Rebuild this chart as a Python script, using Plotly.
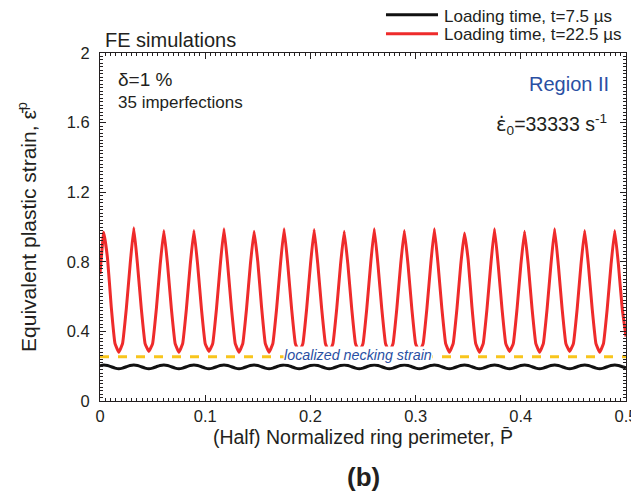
import plotly.graph_objects as go

# ---------------- data ----------------
# x sampling of the (half) normalized perimeter: step 1/280 from 0 to 0.5
n_steps = 140
perimeter = [i / 280 for i in range(n_steps + 1)]

# red curve: loading time t = 22.5 us
strain_t22 = (
    [0.73]
    + [0.97, 0.82, 0.54, 0.33, 0.280, 0.33, 0.53, 0.78]
    + [0.995, 0.78, 0.53, 0.33, 0.285, 0.33, 0.53, 0.78]
    + [0.98, 0.78, 0.53, 0.33, 0.280, 0.33, 0.53, 0.78]
    + [0.98, 0.78, 0.53, 0.33, 0.285, 0.33, 0.53, 0.78]
    + [0.99, 0.78, 0.53, 0.33, 0.280, 0.33, 0.53, 0.78]
    + [0.975, 0.80, 0.54, 0.33, 0.280, 0.33, 0.53, 0.78]
    + [0.99, 0.78, 0.53, 0.33, 0.285, 0.33, 0.53, 0.78]
    + [0.985, 0.78, 0.53, 0.33, 0.280, 0.33, 0.53, 0.78]
    + [0.975, 0.78, 0.53, 0.33, 0.285, 0.33, 0.53, 0.78]
    + [0.99, 0.78, 0.53, 0.33, 0.280, 0.33, 0.53, 0.78]
    + [0.98, 0.78, 0.53, 0.33, 0.285, 0.33, 0.53, 0.78]
    + [0.99, 0.78, 0.53, 0.33, 0.280, 0.33, 0.53, 0.78]
    + [0.965, 0.81, 0.54, 0.33, 0.280, 0.33, 0.53, 0.78]
    + [0.99, 0.78, 0.53, 0.33, 0.285, 0.33, 0.53, 0.78]
    + [0.975, 0.78, 0.53, 0.33, 0.280, 0.33, 0.53, 0.78]
    + [0.99, 0.78, 0.53, 0.33, 0.285, 0.33, 0.53, 0.78]
    + [0.98, 0.78, 0.53, 0.33, 0.280, 0.33, 0.53, 0.78]
    + [0.98, 0.78, 0.53, 0.37]
)

# black curve: loading time t = 7.5 us
strain_t7 = (
    [0.203]
    + [0.207, 0.204, 0.197, 0.189, 0.185, 0.189, 0.197, 0.204]
    + [0.207, 0.204, 0.197, 0.189, 0.185, 0.189, 0.197, 0.204]
    + [0.207, 0.204, 0.197, 0.189, 0.185, 0.189, 0.197, 0.204]
    + [0.207, 0.204, 0.197, 0.189, 0.185, 0.189, 0.197, 0.204]
    + [0.207, 0.204, 0.197, 0.189, 0.185, 0.189, 0.197, 0.204]
    + [0.207, 0.204, 0.197, 0.189, 0.185, 0.189, 0.197, 0.204]
    + [0.207, 0.204, 0.197, 0.189, 0.185, 0.189, 0.197, 0.204]
    + [0.207, 0.204, 0.197, 0.189, 0.185, 0.189, 0.197, 0.204]
    + [0.207, 0.204, 0.197, 0.189, 0.185, 0.189, 0.197, 0.204]
    + [0.207, 0.204, 0.197, 0.189, 0.185, 0.189, 0.197, 0.204]
    + [0.207, 0.204, 0.197, 0.189, 0.185, 0.189, 0.197, 0.204]
    + [0.207, 0.204, 0.197, 0.189, 0.185, 0.189, 0.197, 0.204]
    + [0.207, 0.204, 0.197, 0.189, 0.185, 0.189, 0.197, 0.204]
    + [0.207, 0.204, 0.197, 0.189, 0.185, 0.189, 0.197, 0.204]
    + [0.207, 0.204, 0.197, 0.189, 0.185, 0.189, 0.197, 0.204]
    + [0.207, 0.204, 0.197, 0.189, 0.185, 0.189, 0.197, 0.204]
    + [0.207, 0.204, 0.197, 0.189, 0.185, 0.189, 0.197, 0.204]
    + [0.207, 0.204, 0.197, 0.191]
)

# localized necking strain level
necking_x = [0.0, 0.5]
necking_strain = [0.255, 0.255]

series_names = ["Loading time, t=7.5 \u00b5s", "Loading time, t=22.5 \u00b5s"]
series_colors = ["#111111", "#ee2b2b"]

# ticks: labelled major ticks and unlabelled intermediate ticks
x_label_ticks = [0, 0.1, 0.2, 0.3, 0.4, 0.5]
x_mid_ticks = [0.05, 0.15, 0.25, 0.35, 0.45]
y_label_ticks = [0, 0.4, 0.8, 1.2, 1.6, 2.0]
y_label_text = ["0", "0.4", "0.8", "1.2", "1.6", "2"]
y_mid_ticks = [0.2, 0.6, 1.0, 1.4, 1.8]

FONT = "Liberation Sans, Arial, sans-serif"
TXT = "#231f20"
BLUE = "#2a4fa3"

fig = go.Figure()
fig.add_trace(go.Scatter(
    x=perimeter, y=strain_t7, mode="lines", name=series_names[0], showlegend=False,
    line=dict(color=series_colors[0], width=3, shape="spline", smoothing=0.8),
))
fig.add_trace(go.Scatter(
    x=perimeter, y=strain_t22, mode="lines", name=series_names[1], showlegend=False,
    line=dict(color=series_colors[1], width=3, shape="spline", smoothing=0.3),
))
fig.add_trace(go.Scatter(
    x=necking_x, y=necking_strain, mode="lines", showlegend=False,
    name="localized necking strain",
    line=dict(color="#f8c51c", width=3, dash="dash"),
))

axis_common = dict(
    showline=True, linecolor=TXT, linewidth=1.2, mirror="ticks",
    ticks="inside", ticklen=6, tickcolor=TXT, tickwidth=1,
    showgrid=False, zeroline=False, automargin=False,
    tickfont=dict(family=FONT, size=16.5, color=TXT),
)

fig.update_layout(
    xaxis=dict(
        range=[0, 0.5], tickmode="array", tickvals=x_label_ticks,
        ticktext=[f"{v:g}" for v in x_label_ticks],
        minor=dict(dtick=0.005, tick0=0, ticks="inside", ticklen=3, tickcolor=TXT, showgrid=False),
        title=dict(text="(Half) Normalized ring perimeter, P\u0304",
                   font=dict(family=FONT, size=19.5, color=TXT), standoff=6),
        **axis_common,
    ),
    yaxis=dict(
        range=[0, 2], tickmode="array", tickvals=y_label_ticks, ticktext=y_label_text,
        ticklabelstandoff=6,
        minor=dict(dtick=0.02, tick0=0, ticks="inside", ticklen=3, tickcolor=TXT, showgrid=False),
        title=dict(text="Equivalent plastic strain, \u03b5\u0304<sup>p</sup>",
                   font=dict(family=FONT, size=21, color=TXT), standoff=24),
        **axis_common,
    ),
    # overlay axes that only carry the unlabelled intermediate ticks
    xaxis2=dict(
        overlaying="x", anchor="y", side="bottom", range=[0, 0.5],
        tickmode="array", tickvals=x_mid_ticks, showticklabels=False,
        showline=True, linecolor=TXT, linewidth=1.2, mirror="ticks",
        ticks="inside", ticklen=6, tickcolor=TXT, tickwidth=1,
        showgrid=False, zeroline=False, automargin=False,
    ),
    yaxis2=dict(
        overlaying="y", anchor="x", side="left", range=[0, 2],
        tickmode="array", tickvals=y_mid_ticks, showticklabels=False,
        showline=True, linecolor=TXT, linewidth=1.2, mirror="ticks",
        ticks="inside", ticklen=6, tickcolor=TXT, tickwidth=1,
        showgrid=False, zeroline=False, automargin=False,
    ),
)

annotations = [
    dict(x=0.0057, y=1.037, xref="paper", yref="paper", text="FE simulations", showarrow=False,
         xanchor="left", yanchor="middle", font=dict(family=FONT, size=20, color=TXT)),
    dict(x=0.015, y=1.85, xref="x", yref="y", text="\u03b4=1 %", showarrow=False,
         xanchor="left", yanchor="middle", font=dict(family=FONT, size=19, color=TXT)),
    dict(x=0.015, y=1.715, xref="x", yref="y", text="35 imperfections", showarrow=False,
         xanchor="left", yanchor="middle", font=dict(family=FONT, size=17, color=TXT)),
    dict(x=0.486, y=1.82, xref="x", yref="y", text="Region II", showarrow=False,
         xanchor="right", yanchor="middle", font=dict(family=FONT, size=20, color=BLUE)),
    dict(x=0.484, y=1.59, xref="x", yref="y",
         text="<span style=\"font-family:DejaVu Sans\">\u03b5\u0307</span><sub>0</sub>=33333 s<sup>-1</sup>",
         showarrow=False,
         xanchor="right", yanchor="middle", font=dict(family=FONT, size=19.5, color=TXT)),
    dict(x=0.245, y=0.262, xref="x", yref="y", text="<i>localized necking strain</i>", showarrow=False,
         xanchor="center", yanchor="middle", bgcolor="white", borderpad=0,
         font=dict(family=FONT, size=14.3, color=BLUE)),
    dict(x=0.5, y=-0.218, xref="paper", yref="paper", text="<b>(b)</b>", showarrow=False,
         xanchor="center", yanchor="middle", font=dict(family=FONT, size=26, color=TXT)),
]

# manual legend above the top-right of the plot
legend_line_y = [1.110, 1.055]
legend_text_y = [1.105, 1.053]
shapes = []
for name, color, ly, ty in zip(series_names, series_colors, legend_line_y, legend_text_y):
    shapes.append(dict(type="line", xref="paper", yref="paper", x0=0.5437, x1=0.6426,
                       y0=ly, y1=ly, line=dict(color=color, width=3)))
    annotations.append(dict(x=0.652, y=ty, xref="paper", yref="paper", text=name,
                            showarrow=False, xanchor="left", yanchor="middle", borderpad=0,
                            font=dict(family=FONT, size=17, color=TXT)))

# the page body adds an 8 px offset, so margins are reduced by 8 px on left/top
fig.update_layout(
    width=639, height=501,
    margin=dict(l=92, r=21, t=45, b=108),
    paper_bgcolor="white", plot_bgcolor="white",
    font=dict(family=FONT, color=TXT),
    annotations=annotations,
    shapes=shapes,
    showlegend=False,
)

fig.write_html("out.html")
